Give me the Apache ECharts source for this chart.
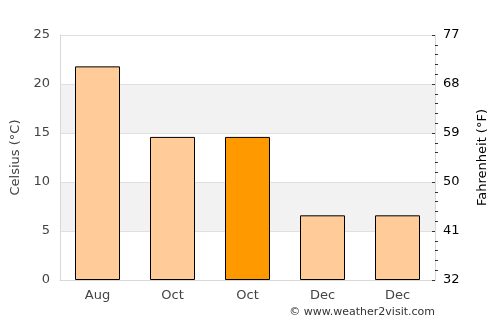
<!DOCTYPE html>
<html><head><meta charset="utf-8">
<script src="https://cdn.jsdelivr.net/npm/echarts@6/dist/echarts.min.js"></script>
<style>html,body{margin:0;padding:0;background:#fff}#c{width:500px;height:325px}</style>
</head><body><div id="c"></div>
<script>
const categories = ['Aug', 'Oct', 'Oct', 'Dec', 'Dec'];
const tempC = [21.8, 14.6, 14.6, 6.6, 6.6];
const highlightIndex = 2;
const leftTicks = [0, 5, 10, 15, 20, 25];
const rightTickLabels = ['32', '41', '50', '59', '68', '77'];

const chart = echarts.init(document.getElementById('c'), null, {renderer: 'canvas'});
const font = 'DejaVu Sans';
chart.setOption({
  animation: false,
  textStyle: {fontFamily: font},
  grid: {left: 60, right: 65, top: 35, bottom: 45},
  graphic: [{
    type: 'text', right: 65, top: 307,
    style: {text: '© www.weather2visit.com', fill: '#333', font: '11px "DejaVu Sans"'}
  }],
  xAxis: {
    type: 'category', data: categories,
    axisTick: {show: false},
    axisLine: {lineStyle: {color: '#d8d8d8'}},
    axisLabel: {color: '#444', fontSize: 13, margin: 9, fontFamily: font}
  },
  yAxis: [{
    type: 'value', min: leftTicks[0], max: leftTicks[leftTicks.length - 1], interval: 5,
    name: 'Celsius (°C)', nameLocation: 'middle', nameGap: 35, nameRotate: 90,
    nameTextStyle: {color: '#444', fontSize: 13, fontFamily: font},
    axisLine: {show: true, lineStyle: {color: '#d8d8d8'}},
    axisTick: {show: false},
    axisLabel: {color: '#444', fontSize: 13, margin: 10, fontFamily: font},
    splitLine: {show: true, lineStyle: {color: '#e0e0e0'}},
    splitArea: {show: true, areaStyle: {color: ['#ffffff', '#f2f2f2']}}
  }, {
    type: 'value', min: leftTicks[0], max: leftTicks[leftTicks.length - 1], interval: 5,
    position: 'right',
    name: 'Fahrenheit (°F)', nameLocation: 'middle', nameGap: 41, nameRotate: 90,
    nameTextStyle: {color: '#000', fontSize: 13, fontFamily: font},
    axisLine: {show: true, lineStyle: {color: '#d8d8d8'}},
    axisTick: {show: true, inside: true, length: 3, lineStyle: {color: '#333'}},
    minorTick: {show: true, splitNumber: 5, length: -3, lineStyle: {color: '#333'}},
    axisLabel: {color: '#000', fontSize: 13, margin: 8, fontFamily: font,
      formatter: v => rightTickLabels[leftTicks.indexOf(v)]},
    splitLine: {show: false}
  }],
  series: [{
    type: 'bar', barWidth: '60%',
    data: tempC.map((v, i) => ({
      value: v,
      itemStyle: {color: i === highlightIndex ? '#ff9900' : '#ffcc99'}
    })),
    itemStyle: {borderColor: '#000', borderWidth: 1}
  }]
});
</script></body></html>
